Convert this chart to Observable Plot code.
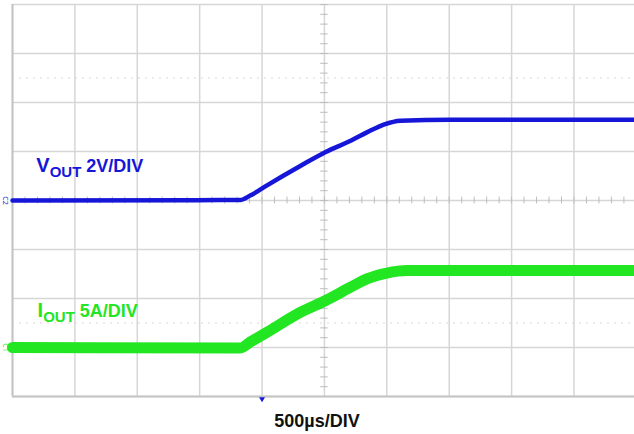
<!DOCTYPE html>
<html>
<head>
<meta charset="utf-8">
<script src="https://cdn.jsdelivr.net/npm/d3@7"></script>
<script src="https://cdn.jsdelivr.net/npm/@observablehq/plot@0.6"></script>
<style>
  html, body { margin: 0; padding: 0; background: #fff; overflow: hidden; }
  #cap { width: 634px; text-align: center; font: bold 18px "Liberation Sans", Arial, sans-serif; color: #111; margin-top: 11px; }
</style>
</head>
<body>
<div id="chart"></div>
<div id="cap">500µs/DIV</div>
<script>
// time in divisions (500µs/DIV), values in divisions from bottom of screen
const time  = [0, 3.65, 3.81, 4.08, 4.62, 5.02, 5.42, 5.68, 5.95, 6.22, 7.02, 10];
const vout  = [4.0, 4.01, 4.10, 4.31, 4.71, 4.99, 5.22, 5.39, 5.55, 5.63, 5.65, 5.65];
const timeI = [0, 3.65, 3.81, 4.08, 4.62, 5.02, 5.42, 5.68, 6.00, 6.33, 7.02, 10];
const iout  = [1.0, 0.99, 1.11, 1.31, 1.72, 1.96, 2.23, 2.40, 2.52, 2.57, 2.57, 2.57];
const xGrid = [0, 1, 2, 3, 4, 5, 6, 7, 8, 9, 10];
const yGrid = [0, 1, 2, 3, 4, 5, 6, 7, 8];
const dotted = [1.5, 6.5];
const blue = "#1616d8", green = "#22e622";

const vData = time.map((t, i) => ({t, v: vout[i]}));
const iData = timeI.map((t, i) => ({t, v: iout[i]}));
const minorX = d3.range(0, 10.01, 0.2);
const minorY = d3.range(0, 8.01, 0.2);

const plot = Plot.plot({
  width: 634, height: 400,
  marginLeft: 12, marginRight: 0, marginTop: 4, marginBottom: 4,
  x: {domain: [0, 9.97], axis: null},
  y: {domain: [0, 8], axis: null},
  style: {background: "#fff", overflow: "visible"},
  marks: [
    Plot.ruleY(dotted, {stroke: "#d8d8d8", strokeDasharray: "2,5", strokeWidth: 1}),
    Plot.ruleX(xGrid, {stroke: "#d6d6d6", strokeWidth: 1.5}),
    Plot.ruleY(yGrid, {stroke: "#d6d6d6", strokeWidth: 1.5}),
    Plot.ruleX(minorX, {y1: 3.93, y2: 4.07, stroke: "#bdbdbd", strokeWidth: 1}),
    Plot.ruleY(minorY, {x1: 4.94, x2: 5.06, stroke: "#bdbdbd", strokeWidth: 1}),
    Plot.ruleX([0], {stroke: "#c4c4c4", strokeWidth: 2}),
    Plot.ruleY([0], {stroke: "#c4c4c4", strokeWidth: 2}),
    Plot.line(iData, {x: "t", y: "v", stroke: green, strokeWidth: 11, curve: "monotone-x"}),
    Plot.line(vData, {x: "t", y: "v", stroke: blue, strokeWidth: 4.5, curve: "monotone-x"}),
    Plot.dot([{t: 4.0, v: -0.05}], {x: "t", y: "v", symbol: "triangle", r: 2.2, fill: blue, rotate: 180}),
    Plot.text([{t: -0.11, v: 4.0, s: "C2"}], {x: "t", y: "v", text: "s", rotate: 90, fontSize: 7, fill: blue}),
    Plot.text([{t: -0.11, v: 1.0, s: "C1"}], {x: "t", y: "v", text: "s", rotate: 90, fontSize: 7, fill: green})
  ]
});
document.getElementById("chart").appendChild(plot);

// Channel labels with subscripts
const svg = d3.select(plot);
const sx = plot.scale("x"), sy = plot.scale("y");
function label(main, sub, rest, xv, yv, color) {
  const t = svg.append("text")
    .attr("x", sx.apply(xv)).attr("y", sy.apply(yv))
    .attr("fill", color)
    .attr("text-anchor", "start")
    .style("font-family", "'Liberation Sans', Arial, sans-serif")
    .style("font-weight", "bold");
  t.append("tspan").attr("font-size", 20).text(main);
  t.append("tspan").attr("font-size", 15).attr("dy", 5).text(sub);
  t.append("tspan").attr("font-size", 18).attr("dy", -5).text(" " + rest);
}
label("V", "OUT", "2V/DIV", 0.39, (396 - 172) / 49, blue);
label("I", "OUT", "5A/DIV", 0.41, (396 - 317) / 49, green);
</script>
</body>
</html>
